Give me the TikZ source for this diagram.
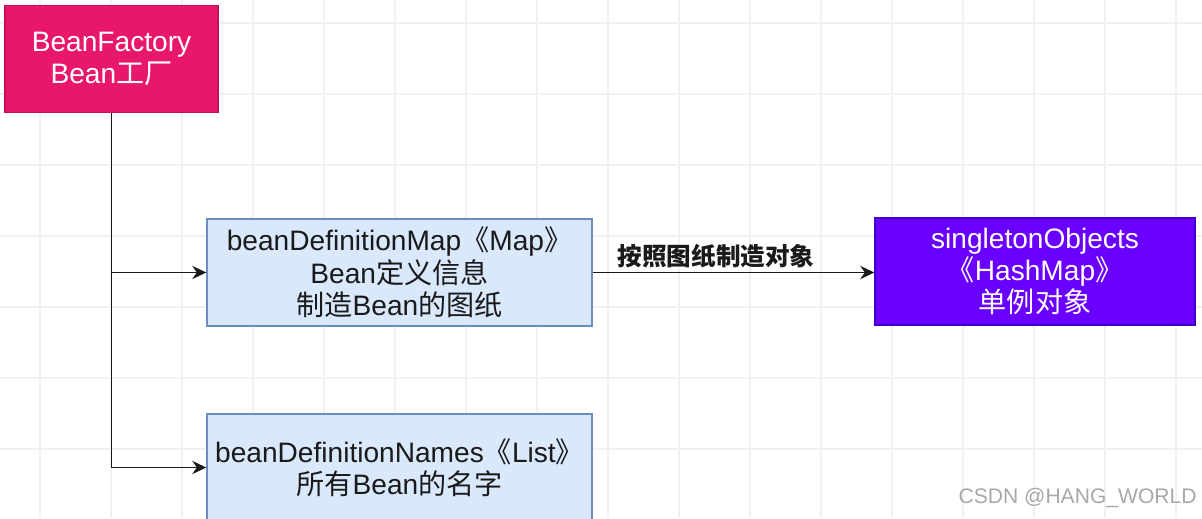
\documentclass[tikz,border=0pt]{standalone}
\usepackage{fontspec}
\setmainfont{Liberation Sans}
\newfontfamily\cjk{Noto Sans CJK SC}
\usetikzlibrary{arrows.meta, positioning}
\definecolor{ink}{HTML}{1A1A1A}
\definecolor{pinkfill}{HTML}{E8176B}
\definecolor{pinkrule}{HTML}{C8105C}
\definecolor{bluefill}{HTML}{DAE8FC}
\definecolor{bluerule}{HTML}{6C8EBF}
\definecolor{purplefill}{HTML}{6A00FF}
\definecolor{purplerule}{HTML}{3D00CC}
\definecolor{gridc}{HTML}{F1F1F1}
\definecolor{muted}{HTML}{A8A8A8}
\tikzset{
  font=\fontsize{16}{18.4}\selectfont,
  >={Stealth[length=8pt, width=7.5pt]},
  %
  box/.style={
    draw, line width=0.8pt, align=center, inner sep=0pt,
    minimum height=2.14cm, text=ink,
  },
  boxpink/.style={box, draw=pinkrule, fill=pinkfill, text=white, minimum width=4.26cm},
  boxblue/.style={box, draw=bluerule, fill=bluefill, minimum width=7.7cm},
  boxpurple/.style={box, draw=purplerule, fill=purplefill, text=white, minimum width=6.4cm},
  %
  flow/.style={draw=ink, line width=1pt, ->},
  trunk/.style={draw=ink, line width=1pt},
  gridline/.style={draw=gridc, line width=0.6pt},
  %
  lbl/.style={font=\fontsize{14}{16}\selectfont\cjk\bfseries, text=ink, inner sep=1pt},
  credit/.style={font=\fontsize{12}{14}\selectfont, text=muted, inner sep=0pt},
}

\begin{document}
\begin{tikzpicture}[x=0.02cm, y=-0.02cm]

  \useasboundingbox (0,0) rectangle (1202,518);
  \fill[white] (0,0) rectangle (1202,518);
  \foreach \gx in {40,111,...,1202} \draw[gridline] (\gx,0) -- (\gx,518);
  \foreach \gy in {23,94,...,518} \draw[gridline] (0,\gy) -- (1202,\gy);

  \node[boxpink] (factory) at (111.5,59)
    {BeanFactory\\Bean{\cjk 工厂}};
  \node[boxblue] (defmap) at (399.5,272.5)
    {beanDefinitionMap{\cjk 《}Map{\cjk 》}\\Bean{\cjk 定义信息}\\{\cjk 制造}Bean{\cjk 的图纸}};
  \node[boxpurple] (singletons) at (1035,271.5)
    {singletonObjects\\{\cjk 《}HashMap{\cjk 》}\\{\cjk 单例对象}};
  \node[boxblue] (defnames) at (399.5,467.5)
    {beanDefinitionNames{\cjk 《}List{\cjk 》}\\{\cjk 所有}Bean{\cjk 的名字}};

  \coordinate (tmap) at (factory.south |- defmap.west);
  \coordinate (tnames) at (factory.south |- defnames.west);

  \draw[trunk] (factory.south) -- (tnames);
  \draw[flow] (tmap) -- (defmap.west);
  \draw[flow] (tnames) -- (defnames.west);

  \draw[flow] (defmap.east) -- (singletons.west |- defmap.east);
  \node[lbl] (make) at (716,256) {按照图纸制造对象};

  \node[credit, anchor=east] (wm) at (1197,498) {CSDN @HANG\_WORLD};

\end{tikzpicture}
\end{document}
